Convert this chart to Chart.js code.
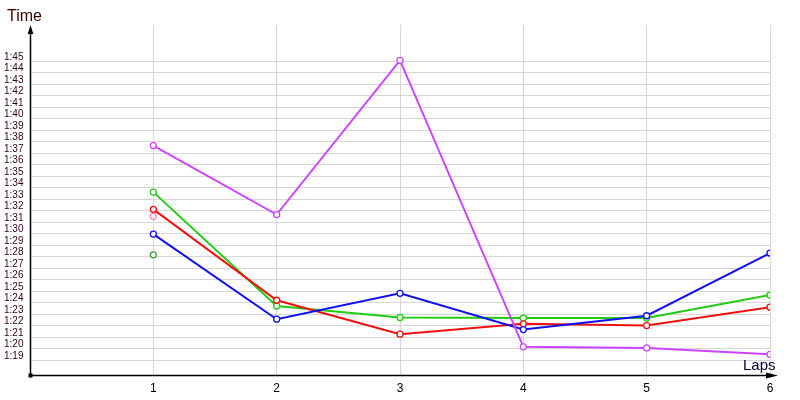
<!DOCTYPE html>
<html>
<head>
<meta charset="utf-8">
<script src="https://cdn.jsdelivr.net/npm/chart.js"></script>
<style>
  html, body { margin: 0; padding: 0; background: #fff; }
  #wrap { width: 800px; height: 400px; }
</style>
</head>
<body>
<div id="wrap"><canvas id="lapChart"></canvas></div>
<script>
// laps on the x axis
const laps = [1, 2, 3, 4, 5, 6];
// y tick values, in seconds (1:19 .. 1:45)
const yTicks = [79, 80, 81, 82, 83, 84, 85, 86, 87, 88, 89, 90, 91, 92, 93, 94, 95, 96, 97, 98, 99, 100, 101, 102, 103, 104, 105];

// lap times in seconds
const purpleTimes = [97.65, 91.65, 105.05, 80.15, 80.05, 79.5];
const blueTimes = [89.95, 82.55, 84.8, 81.65, 82.85, 88.3];
const redTimes = [92.1, 84.2, 81.25, 82.15, 82.0, 83.6];
const greenTimes = [93.6, 83.7, 82.7, 82.65, 82.65, 84.65];
// single extra points at lap 1
const pinkTimes = [91.5];
const darkGreenTimes = [88.15];

function fmtTime(sec) {
  const m = Math.floor(sec / 60);
  const s = Math.round(sec - m * 60);
  return m + ':' + (s < 10 ? '0' + s : s);
}

function series(times, color, showLine) {
  return {
    data: times.map((t, i) => ({ x: laps[i], y: t })),
    borderColor: color,
    backgroundColor: color,
    borderWidth: 2,
    pointRadius: 3,
    pointBorderWidth: 1.3,
    pointBorderColor: color,
    pointBackgroundColor: '#fff',
    showLine: showLine,
    tension: 0
  };
}

// axis arrows and the Time / Laps titles
const axisArrows = {
  id: 'axisArrows',
  afterDraw(chart) {
    const { ctx, chartArea } = chart;
    const x0 = chartArea.left + 0.5;
    const y0 = Math.round(chartArea.bottom) + 0.5;
    ctx.save();
    ctx.strokeStyle = '#000';
    ctx.fillStyle = '#000';
    ctx.lineWidth = 1.5;
    // y axis
    ctx.beginPath();
    ctx.moveTo(x0, y0);
    ctx.lineTo(x0, chartArea.top + 6);
    ctx.stroke();
    ctx.beginPath();
    ctx.moveTo(x0, chartArea.top);
    ctx.lineTo(x0 - 2.8, chartArea.top + 9);
    ctx.lineTo(x0 + 2.8, chartArea.top + 9);
    ctx.closePath();
    ctx.fill();
    // x axis
    ctx.beginPath();
    ctx.moveTo(x0, y0);
    ctx.lineTo(770, y0);
    ctx.stroke();
    ctx.beginPath();
    ctx.moveTo(778, y0);
    ctx.lineTo(766, y0 - 3);
    ctx.lineTo(766, y0 + 3);
    ctx.closePath();
    ctx.fill();
    // origin mark
    ctx.fillRect(x0 - 2, y0 - 2, 4, 4);

    ctx.font = '16px "Liberation Sans", Arial, sans-serif';
    ctx.textBaseline = 'alphabetic';
    ctx.textAlign = 'left';
    ctx.fillStyle = '#3c0000';
    ctx.fillText('Time', 7, 21);
    ctx.font = '15px "Liberation Sans", Arial, sans-serif';
    ctx.fillStyle = '#000030';
    ctx.fillText('Laps', 743, 370);
    ctx.restore();
  }
};

const ctx = document.getElementById('lapChart').getContext('2d');
const lapChart = new Chart(ctx, {
  type: 'line',
  data: {
    datasets: [
      series(purpleTimes, '#cc44ff', true),
      series(blueTimes, '#1010f0', true),
      series(redTimes, '#f01010', true),
      series(greenTimes, '#22cc11', true),
      series(pinkTimes, '#ff8fa8', false),
      series(darkGreenTimes, '#33a033', false)
    ]
  },
  options: {
    responsive: true,
    maintainAspectRatio: false,
    animation: false,
    layout: { padding: { top: 25, right: 30, bottom: 0, left: 4 } },
    plugins: {
      legend: { display: false },
      tooltip: { enabled: false }
    },
    scales: {
      x: {
        type: 'linear',
        min: 0,
        max: 6,
        afterBuildTicks(scale) {
          scale.ticks = laps.map(v => ({ value: v }));
        },
        afterFit(scale) {
          scale.height = 25;
        },
        border: { display: false },
        grid: { color: '#d6d6d6', lineWidth: 1, drawTicks: false },
        ticks: {
          padding: 6,
          autoSkip: false,
          color: '#000',
          font: { family: '"Liberation Sans", Arial, sans-serif', size: 12 },
          maxRotation: 0
        }
      },
      y: {
        type: 'linear',
        min: 77.7,
        max: 108.13,
        afterBuildTicks(scale) {
          scale.ticks = yTicks.map(v => ({ value: v }));
        },
        afterFit(scale) {
          scale.width = 26;
        },
        border: { display: false },
        grid: { color: '#d6d6d6', lineWidth: 1, drawTicks: false },
        ticks: {
          autoSkip: false,
          crossAlign: 'far',
          padding: 0,
          labelOffset: -4,
          color: '#300020',
          font: { family: '"Liberation Sans", Arial, sans-serif', size: 10 },
          callback: v => fmtTime(v)
        }
      }
    }
  },
  plugins: [axisArrows]
});
</script>
</body>
</html>
